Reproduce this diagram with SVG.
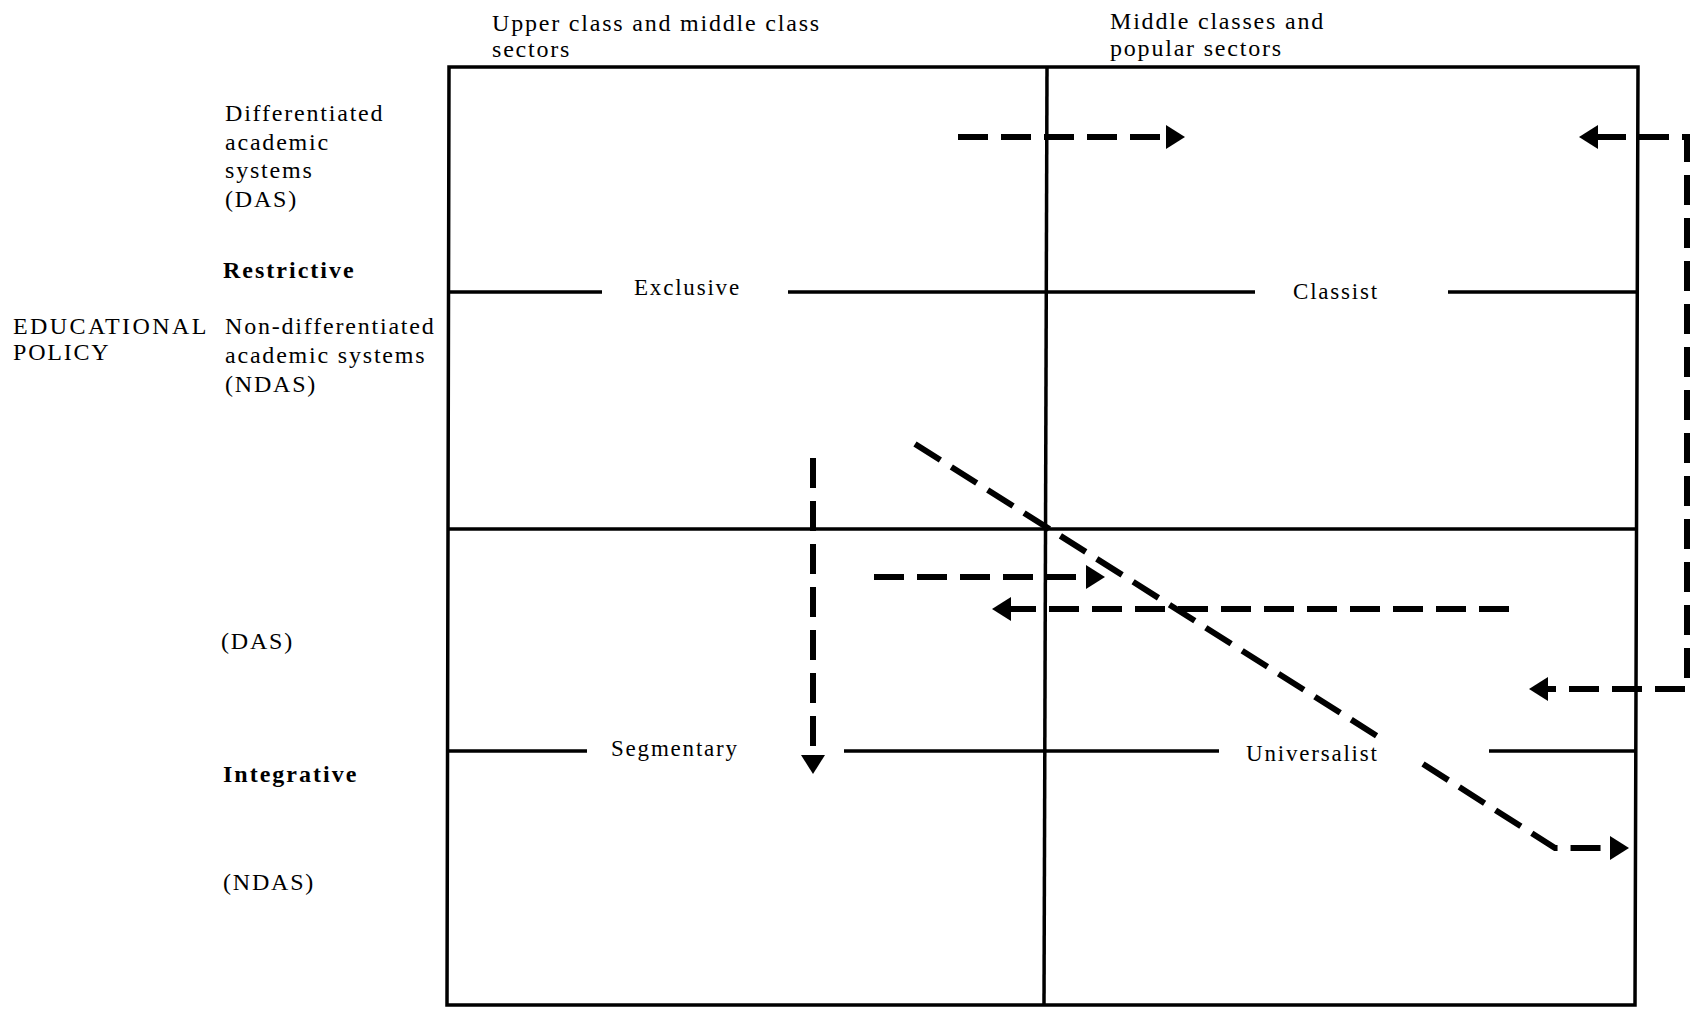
<svg xmlns="http://www.w3.org/2000/svg" width="1694" height="1009" viewBox="0 0 1694 1009">
<style>
text{font-family:"Liberation Serif","Times New Roman",serif;fill:#000;font-size:24px;letter-spacing:1.8px}
.b{font-weight:bold;letter-spacing:2px}
.lbl{font-size:23px}
.grid{stroke:#000;stroke-width:3.5;fill:none}
.dash{stroke:#000;stroke-width:6;fill:none;stroke-dasharray:30 13}
</style>
<defs>
<marker id="ah" viewBox="0 0 19 24" refX="2" refY="12" markerWidth="19" markerHeight="24" markerUnits="userSpaceOnUse" orient="auto-start-reverse">
<path d="M0,0 L19,12 L0,24 Z" fill="#000"/>
</marker>
</defs>
<rect width="1694" height="1009" fill="#fff"/>
<g id="frame">
<path class="grid" stroke-width="4" d="M449,67 H1638 L1635,1005 H447 Z"/>
<line class="grid" x1="1047" y1="67" x2="1044" y2="1005"/>
<line class="grid" x1="448" y1="529" x2="1637" y2="529"/>
<path class="grid" d="M448,292 H602 M788,292 H1255 M1448,292 H1637"/>
<path class="grid" d="M447,751 H587 M844,751 H1219 M1489,751 H1636"/>
</g>
<g id="col-upper"><text x="492" y="31">Upper class and middle class</text><text x="492" y="57">sectors</text></g>
<g id="col-middle"><text x="1110" y="29">Middle classes and</text><text x="1110" y="56">popular sectors</text></g>
<g id="row-das-1"><text x="225" y="121">Differentiated</text><text x="225" y="150">academic</text><text x="225" y="178">systems</text><text x="225" y="207">(DAS)</text></g>
<g id="restrictive"><text class="b" x="223" y="278">Restrictive</text></g>
<g id="educational-policy"><text x="13" y="334" style="letter-spacing:2.4px">EDUCATIONAL</text><text x="13" y="360">POLICY</text></g>
<g id="row-ndas-1"><text x="225" y="334">Non-differentiated</text><text x="225" y="363">academic systems</text><text x="225" y="392">(NDAS)</text></g>
<g id="row-das-2"><text x="221" y="649">(DAS)</text></g>
<g id="integrative"><text class="b" x="223" y="782">Integrative</text></g>
<g id="row-ndas-2"><text x="223" y="890">(NDAS)</text></g>
<g id="exclusive"><text class="lbl" x="634" y="295">Exclusive</text></g>
<g id="classist"><text class="lbl" x="1293" y="299">Classist</text></g>
<g id="segmentary"><text class="lbl" x="611" y="756">Segmentary</text></g>
<g id="universalist"><text class="lbl" x="1246" y="761">Universalist</text></g>
<g id="connectors">
<path class="dash" marker-end="url(#ah)" d="M958,137 H1168"/>
<path class="dash" marker-start="url(#ah)" marker-end="url(#ah)" d="M1596,137 H1687 V689 H1546"/>
<path class="dash" marker-end="url(#ah)" d="M813,458 V757"/>
<path class="dash" d="M915,444 L1385,741"/>
<path class="dash" marker-end="url(#ah)" d="M1423,764 L1555,848 H1612"/>
<path class="dash" marker-end="url(#ah)" d="M874,577 H1088"/>
<path class="dash" marker-end="url(#ah)" d="M1509,609 H1009"/>
</g>
</svg>
